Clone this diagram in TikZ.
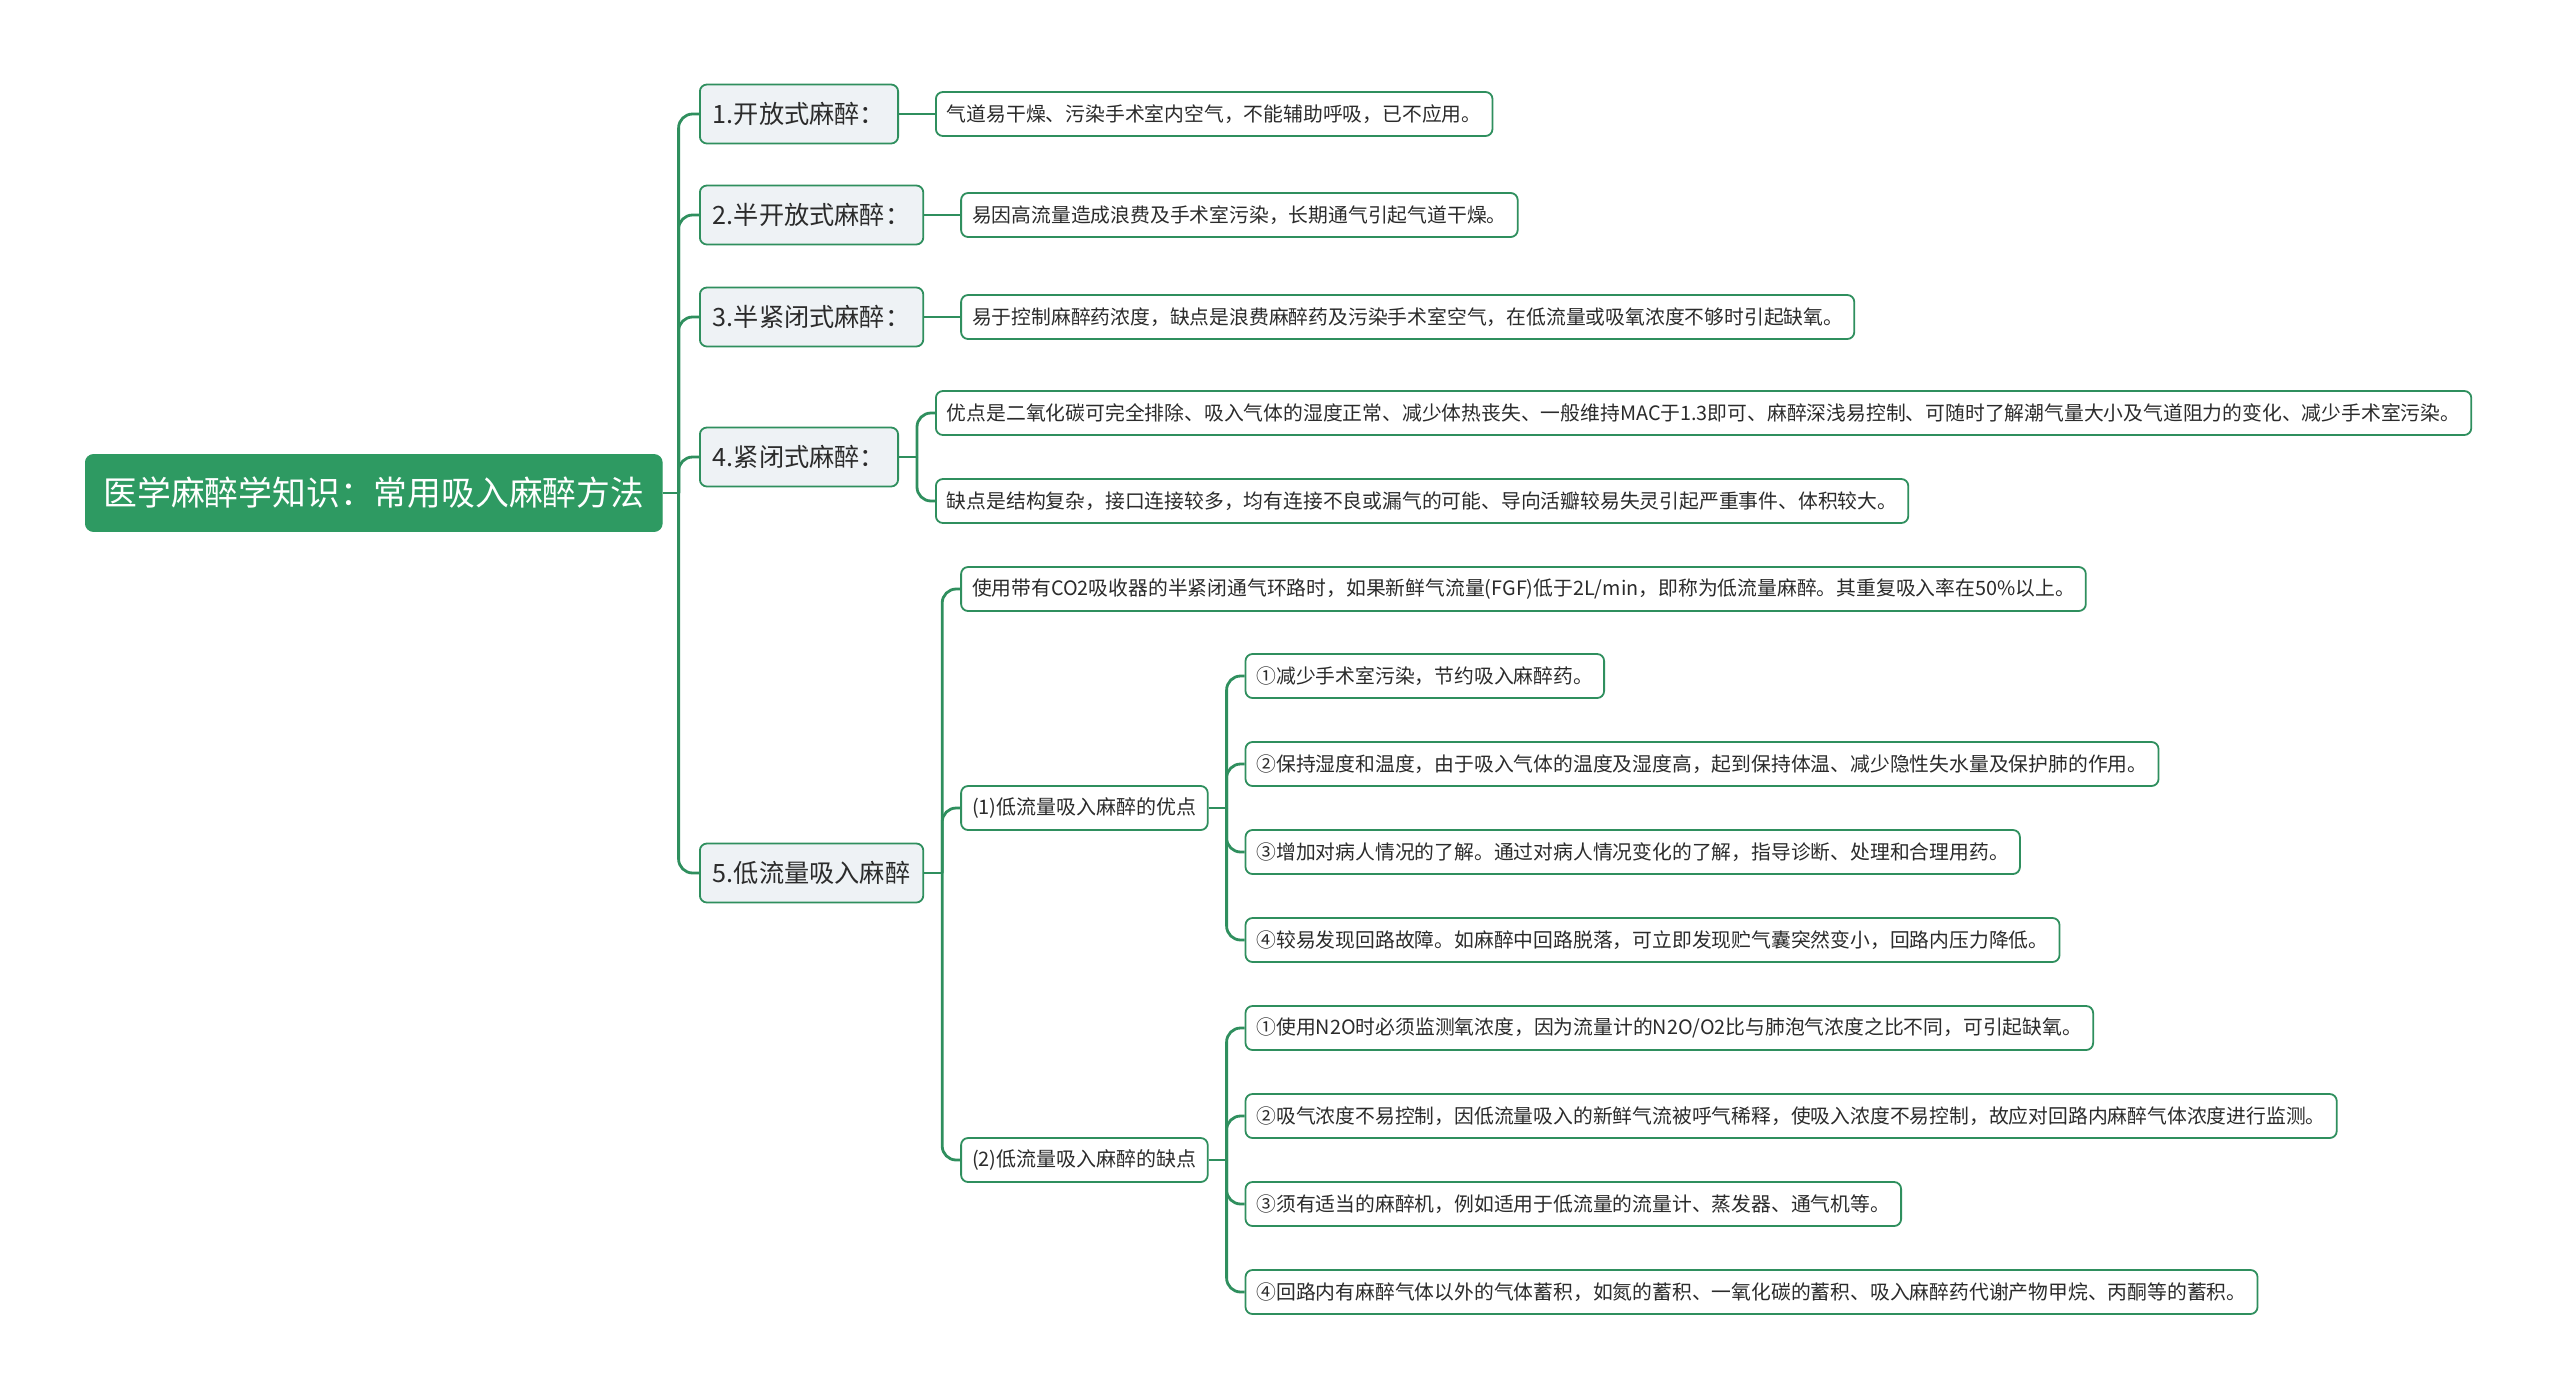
\documentclass[tikz,border=0pt]{standalone}
\usepackage{fontspec}
\usepackage{tikz}
\usetikzlibrary{positioning}
\usepackage{xcolor}
\newfontfamily\cjk{Noto Sans CJK SC}
\definecolor{mapgreen}{HTML}{2F8F5E}
\definecolor{rootgreen}{HTML}{2E9A62}
\definecolor{topicfill}{HTML}{EEF2F5}
\definecolor{inktext}{HTML}{2B2B2B}

\begin{document}
\begin{tikzpicture}[
      x=0.5pt,y=-0.5pt,
      rootbox/.style={fill=rootgreen,draw=rootgreen,rounded corners=4pt,text=white,font=\cjk\fontsize{16.9}{20}\selectfont,inner xsep=9pt,minimum height=38.5pt,anchor=west},
      topic/.style={draw=mapgreen,fill=topicfill,line width=0.9pt,rounded corners=3.5pt,text=inktext,font=\cjk\fontsize{12.6}{16}\selectfont,inner xsep=6.5pt,minimum height=29.5pt,anchor=west},
      sub/.style={draw=mapgreen,fill=white,line width=0.9pt,rounded corners=3.5pt,text=inktext,font=\cjk\fontsize{10}{13}\selectfont,inner xsep=5.5pt,minimum height=22pt},
      leaf/.style={sub,font=\cjk\fontsize{9.9}{12}\selectfont},
      link/.style={mapgreen,line width=1.4pt,rounded corners=7pt}
    ]
      \useasboundingbox (0,0) rectangle (2560,1398);
      \node[rootbox] (root) at (85,493) {医学麻醉学知识：常用吸入麻醉方法};

      % first level
      \node[topic] (m1) at (699,114) {1.开放式麻醉：};
      \node[topic] (m2) at (699,215) {2.半开放式麻醉：};
      \node[topic] (m3) at (699,317) {3.半紧闭式麻醉：};
      \node[topic] (m4) at (699,457) {4.紧闭式麻醉：};
      \node[topic] (m5) at (699,873) {5.低流量吸入麻醉};

      % notes for 1-4
      \node[leaf,right=18pt of m1] (m1a) {气道易干燥、污染手术室内空气，不能辅助呼吸，已不应用。};
      \node[leaf,right=18pt of m2] (m2a) {易因高流量造成浪费及手术室污染，长期通气引起气道干燥。};
      \node[leaf,right=18pt of m3] (m3a) {易于控制麻醉药浓度，缺点是浪费麻醉药及污染手术室空气，在低流量或吸氧浓度不够时引起缺氧。};
      \node[leaf,right=18pt of m4,yshift=22pt] (m4a) {优点是二氧化碳可完全排除、吸入气体的湿度正常、减少体热丧失、一般维持MAC于1.3即可、麻醉深浅易控制、可随时了解潮气量大小及气道阻力的变化、减少手术室污染。};
      \node[leaf,right=18pt of m4,yshift=-22pt] (m4b) {缺点是结构复杂，接口连接较多，均有连接不良或漏气的可能、导向活瓣较易失灵引起严重事件、体积较大。};

      % low flow
      \node[leaf,right=18pt of m5,yshift=142pt] (m5a) {使用带有CO2吸收器的半紧闭通气环路时，如果新鲜气流量(FGF)低于2L/min，即称为低流量麻醉。其重复吸入率在50\%以上。};
      \node[sub,right=18pt of m5,yshift=32.5pt] (pro) {(1)低流量吸入麻醉的优点};
      \node[sub,right=18pt of m5,yshift=-143.5pt] (con) {(2)低流量吸入麻醉的缺点};

      \node[leaf,right=18pt of pro,yshift=66pt] (pro1) {①减少手术室污染，节约吸入麻醉药。};
      \node[leaf,right=18pt of pro,yshift=22pt] (pro2) {②保持湿度和温度，由于吸入气体的温度及湿度高，起到保持体温、减少隐性失水量及保护肺的作用。};
      \node[leaf,right=18pt of pro,yshift=-22pt] (pro3) {③增加对病人情况的了解。通过对病人情况变化的了解，指导诊断、处理和合理用药。};
      \node[leaf,right=18pt of pro,yshift=-66pt] (pro4) {④较易发现回路故障。如麻醉中回路脱落，可立即发现贮气囊突然变小，回路内压力降低。};

      \node[leaf,right=18pt of con,yshift=66pt] (con1) {①使用N2O时必须监测氧浓度，因为流量计的N2O/O2比与肺泡气浓度之比不同，可引起缺氧。};
      \node[leaf,right=18pt of con,yshift=22pt] (con2) {②吸气浓度不易控制，因低流量吸入的新鲜气流被呼气稀释，使吸入浓度不易控制，故应对回路内麻醉气体浓度进行监测。};
      \node[leaf,right=18pt of con,yshift=-22pt] (con3) {③须有适当的麻醉机，例如适用于低流量的流量计、蒸发器、通气机等。};
      \node[leaf,right=18pt of con,yshift=-66pt] (con4) {④回路内有麻醉气体以外的气体蓄积，如氮的蓄积、一氧化碳的蓄积、吸入麻醉药代谢产物甲烷、丙酮等的蓄积。};

      % branches
      \coordinate (rootj) at ([xshift=8pt]root.east);
      \draw[link] (root.east) -- (rootj);
      \draw[link] (rootj) |- (m1.west);
      \draw[link] (rootj) |- (m2.west);
      \draw[link] (rootj) |- (m3.west);
      \draw[link] (rootj) |- (m4.west);
      \draw[link] (rootj) |- (m5.west);

      \draw[link] (m1.east) -- (m1a.west);
      \draw[link] (m2.east) -- (m2a.west);
      \draw[link] (m3.east) -- (m3a.west);

      \coordinate (m4j) at ([xshift=9pt]m4.east);
      \draw[link] (m4.east) -- (m4j);
      \draw[link] (m4j) |- (m4a.west);
      \draw[link] (m4j) |- (m4b.west);

      \coordinate (m5j) at ([xshift=9pt]m5.east);
      \draw[link] (m5.east) -- (m5j);
      \draw[link] (m5j) |- (m5a.west);
      \draw[link] (m5j) |- (pro.west);
      \draw[link] (m5j) |- (con.west);

      \coordinate (proj) at ([xshift=9pt]pro.east);
      \draw[link] (pro.east) -- (proj);
      \draw[link] (proj) |- (pro1.west);
      \draw[link] (proj) |- (pro2.west);
      \draw[link] (proj) |- (pro3.west);
      \draw[link] (proj) |- (pro4.west);

      \coordinate (conj) at ([xshift=9pt]con.east);
      \draw[link] (con.east) -- (conj);
      \draw[link] (conj) |- (con1.west);
      \draw[link] (conj) |- (con2.west);
      \draw[link] (conj) |- (con3.west);
      \draw[link] (conj) |- (con4.west);
    \end{tikzpicture}
\end{document}
